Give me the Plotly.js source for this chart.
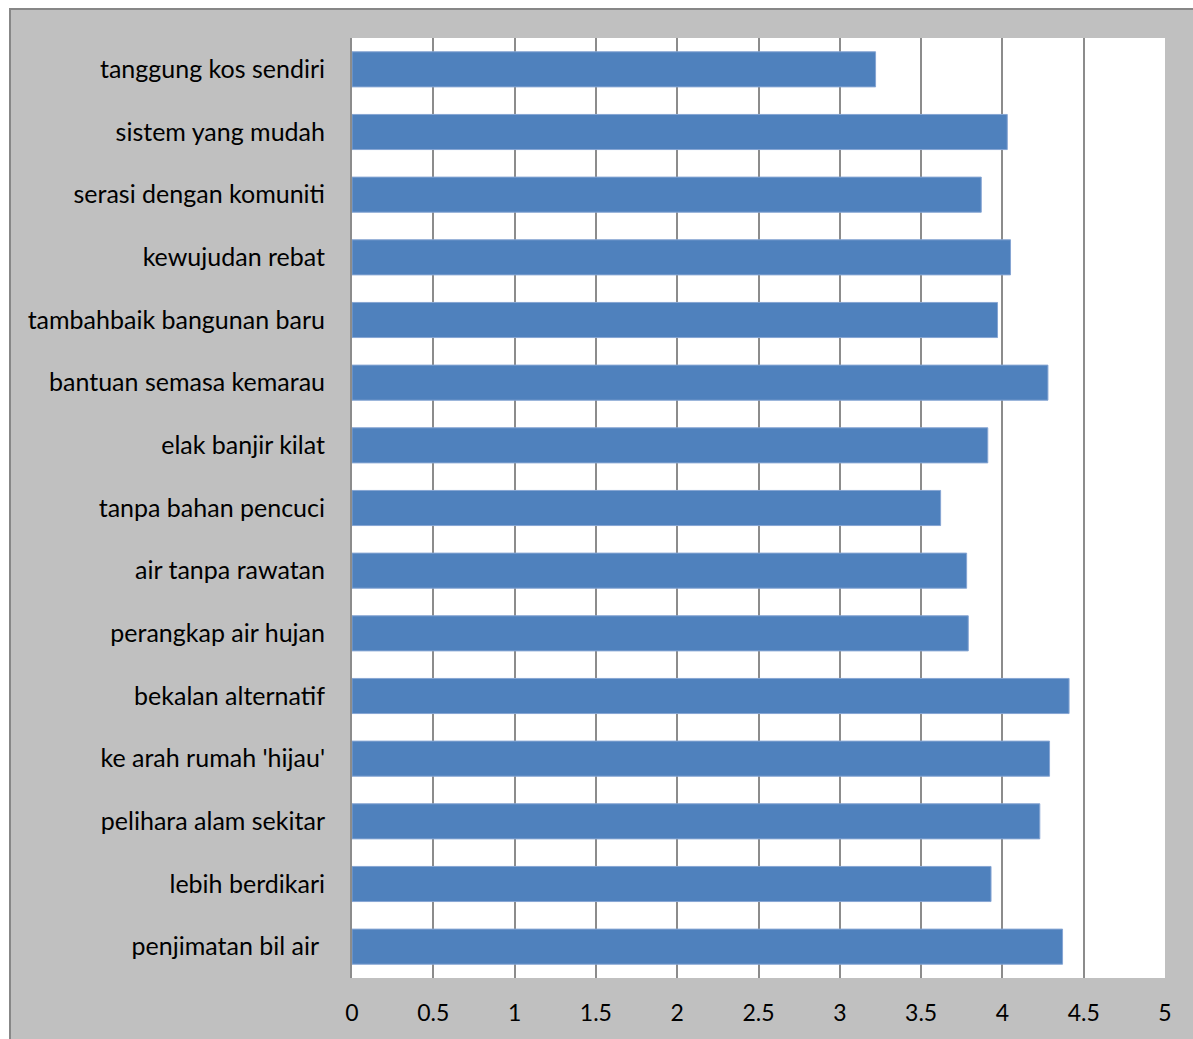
<!DOCTYPE html>
<html>
<head>
<meta charset="utf-8">
<script src="https://cdn.plot.ly/plotly-3.0.1.min.js"></script>
<style>
html,body{margin:0;padding:0;background:#ffffff;width:1193px;height:1039px;overflow:hidden;}
#frame{position:absolute;left:9px;top:8px;width:1184px;height:1031px;box-sizing:border-box;border-left:2px solid #878787;border-top:2px solid #878787;background:#c0c0c0;}
#chart{width:1182px;height:1029px;}
</style>
</head>
<body>
<div id="frame"><div id="chart"></div></div>
<script>
var categories = [
  "tanggung kos sendiri",
  "sistem yang mudah",
  "serasi dengan komuniti",
  "kewujudan rebat",
  "tambahbaik bangunan baru",
  "bantuan semasa kemarau",
  "elak banjir kilat",
  "tanpa bahan pencuci",
  "air tanpa rawatan",
  "perangkap air hujan",
  "bekalan alternatif",
  "ke arah rumah 'hijau'",
  "pelihara alam sekitar",
  "lebih berdikari",
  "penjimatan bil air\u00a0"
];
var values = [3.22, 4.03, 3.87, 4.05, 3.97, 4.28, 3.91, 3.62, 3.78, 3.79, 4.41, 4.29, 4.23, 3.93, 4.37];
var xTicks = [0, 0.5, 1, 1.5, 2, 2.5, 3, 3.5, 4, 4.5, 5];
var xTickLabels = ["0", "0.5", "1", "1.5", "2", "2.5", "3", "3.5", "4", "4.5", "5"];

var trace = {
  type: 'bar',
  orientation: 'h',
  y: categories,
  x: values,
  marker: {color: '#4f81bd', line: {color: '#86a5d3', width: 1}},
  hoverinfo: 'x+y'
};

var layout = {
  width: 1182,
  height: 1029,
  margin: {l: 341, r: 28, t: 28, b: 61, pad: 0},
  paper_bgcolor: '#c0c0c0',
  plot_bgcolor: '#ffffff',
  bargap: 0.44,
  showlegend: false,
  font: {family: 'Lato, "Open Sans", sans-serif', size: 25, color: '#000000'},
  xaxis: {
    range: [0, 5],
    tickvals: xTicks,
    ticktext: xTickLabels,
    showgrid: true,
    gridcolor: '#8c8c8c',
    gridwidth: 2,
    zeroline: false,
    showline: false,
    ticks: 'outside',
    ticklen: 14,
    tickcolor: 'rgba(0,0,0,0)',
    tickfont: {size: 23, family: 'Lato, "Open Sans", sans-serif', color: '#000'},
    fixedrange: true
  },
  yaxis: {
    type: 'category',
    autorange: 'reversed',
    showgrid: false,
    zeroline: false,
    showline: true,
    linecolor: '#8c8c8c',
    linewidth: 2,
    ticks: 'outside',
    ticklen: 20,
    tickcolor: 'rgba(0,0,0,0)',
    tickfont: {size: 25, family: 'Lato, "Open Sans", sans-serif', color: '#000'},
    fixedrange: true
  }
};

Plotly.newPlot('chart', [trace], layout, {displayModeBar: false, staticPlot: true});
</script>
</body>
</html>
